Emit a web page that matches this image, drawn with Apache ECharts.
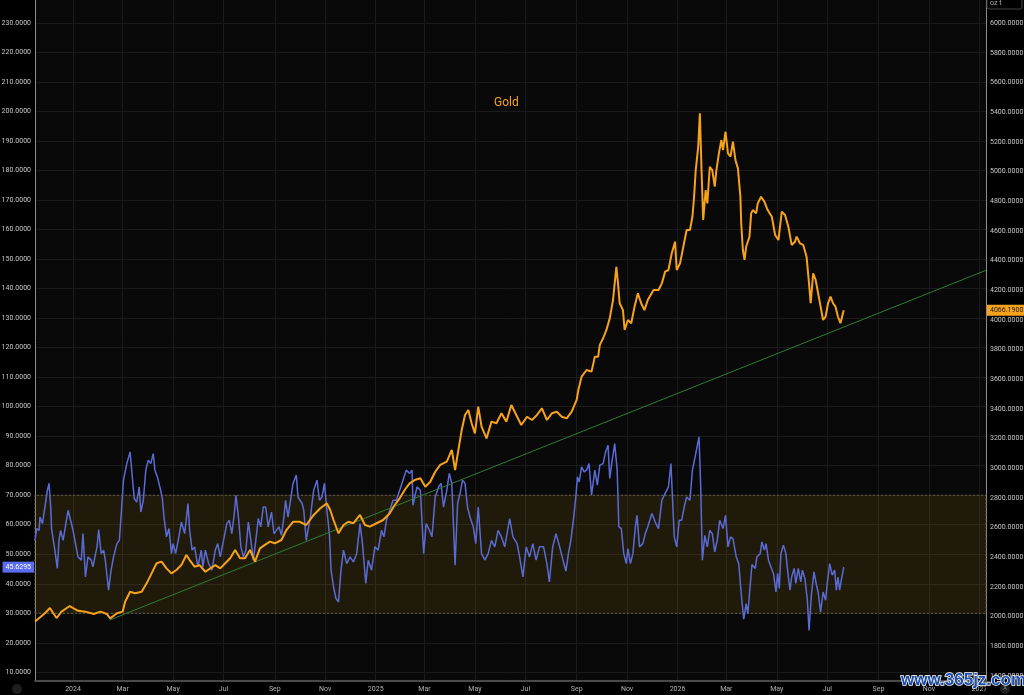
<!DOCTYPE html>
<html><head><meta charset="utf-8">
<script src="https://cdn.jsdelivr.net/npm/echarts@6/dist/echarts.min.js"></script>
<style>html,body{margin:0;padding:0;background:#000;}#c{width:1024px;height:695px;}</style>
</head><body><div id="c"></div><script>
// ---- tick labels ----
const xTickDates = ['2024-01-01','2024-03-01','2024-05-01','2024-07-01','2024-09-01','2024-11-01','2025-01-01','2025-03-01','2025-05-01','2025-07-01','2025-09-01','2025-11-01','2026-01-01','2026-03-01','2026-05-01','2026-07-01','2026-09-01','2026-11-01','2027-01-01'];
const xTickLabels = ['2024','Mar','May','Jul','Sep','Nov','2025','Mar','May','Jul','Sep','Nov','2026','Mar','May','Jul','Sep','Nov','2027'];
const leftTicks = [10,20,30,40,50,60,70,80,90,100,110,120,130,140,150,160,170,180,190,200,210,220,230];
const rightTicks = [1600,1800,2000,2200,2400,2600,2800,3000,3200,3400,3600,3800,4000,4200,4400,4600,4800,5000,5200,5400,5600,5800,6000];
const bandLevels = [30, 70];
const titleText = 'Gold';

// ---- Gold closes (right axis) ----
const goldDates = ['2023-11-16','2023-11-28','2023-12-04','2023-12-12','2023-12-18','2023-12-28','2024-01-07','2024-01-16','2024-01-26','2024-02-03','2024-02-11','2024-02-15','2024-02-23','2024-03-01','2024-03-04','2024-03-10','2024-03-16','2024-03-24','2024-03-30','2024-04-05','2024-04-11','2024-04-17','2024-04-23','2024-04-29','2024-05-05','2024-05-11','2024-05-17','2024-05-21','2024-05-27','2024-06-02','2024-06-09','2024-06-15','2024-06-21','2024-06-27','2024-07-03','2024-07-09','2024-07-15','2024-07-21','2024-07-27','2024-08-02','2024-08-08','2024-08-14','2024-08-20','2024-08-26','2024-09-01','2024-09-09','2024-09-15','2024-09-23','2024-10-01','2024-10-09','2024-10-18','2024-10-26','2024-11-03','2024-11-07','2024-11-11','2024-11-17','2024-11-23','2024-11-29','2024-12-05','2024-12-13','2024-12-19','2024-12-25','2025-01-02','2025-01-10','2025-01-18','2025-01-24','2025-01-30','2025-02-05','2025-02-11','2025-02-17','2025-02-24','2025-03-02','2025-03-08','2025-03-14','2025-03-20','2025-03-28','2025-04-03','2025-04-07','2025-04-11','2025-04-15','2025-04-19','2025-04-23','2025-04-27','2025-05-01','2025-05-05','2025-05-09','2025-05-15','2025-05-21','2025-05-27','2025-06-02','2025-06-08','2025-06-14','2025-06-20','2025-06-26','2025-07-03','2025-07-09','2025-07-15','2025-07-21','2025-07-27','2025-08-02','2025-08-08','2025-08-14','2025-08-20','2025-08-26','2025-09-01','2025-09-03','2025-09-07','2025-09-13','2025-09-19','2025-09-23','2025-09-27','2025-09-29','2025-10-03','2025-10-07','2025-10-11','2025-10-15','2025-10-19','2025-10-21','2025-10-23','2025-10-27','2025-10-29','2025-11-02','2025-11-06','2025-11-10','2025-11-14','2025-11-18','2025-11-22','2025-11-26','2025-12-03','2025-12-09','2025-12-13','2025-12-17','2025-12-21','2025-12-25','2025-12-29','2025-12-31','2026-01-04','2026-01-08','2026-01-12','2026-01-16','2026-01-19','2026-01-21','2026-01-23','2026-01-26','2026-01-28','2026-01-30','2026-02-01','2026-02-04','2026-02-06','2026-02-09','2026-02-12','2026-02-15','2026-02-17','2026-02-20','2026-02-23','2026-02-25','2026-02-28','2026-03-03','2026-03-06','2026-03-09','2026-03-12','2026-03-15','2026-03-18','2026-03-19','2026-03-21','2026-03-23','2026-03-25','2026-03-27','2026-03-29','2026-03-31','2026-04-02','2026-04-06','2026-04-08','2026-04-12','2026-04-16','2026-04-20','2026-04-25','2026-04-29','2026-05-03','2026-05-07','2026-05-11','2026-05-15','2026-05-19','2026-05-23','2026-05-25','2026-05-29','2026-06-02','2026-06-06','2026-06-09','2026-06-11','2026-06-14','2026-06-17','2026-06-20','2026-06-23','2026-06-26','2026-06-29','2026-07-02','2026-07-05','2026-07-08','2026-07-11','2026-07-14','2026-07-17','2026-07-20','2026-07-21'];
const goldClose = [1967,2023,2059,1991,2034,2072,2040,2034,2018,2034,2018,1989,2023,2034,2101,2168,2158,2168,2225,2292,2360,2371,2326,2292,2315,2348,2416,2382,2337,2348,2303,2326,2348,2326,2360,2394,2450,2394,2394,2450,2371,2461,2484,2506,2495,2517,2584,2640,2640,2618,2686,2731,2764,2719,2652,2562,2618,2640,2630,2686,2618,2607,2630,2652,2697,2753,2798,2854,2899,2921,2933,2876,2910,2977,3023,3045,3124,2989,3124,3259,3360,3393,3304,3236,3416,3281,3202,3315,3304,3371,3315,3427,3360,3292,3348,3326,3360,3405,3326,3371,3382,3348,3337,3382,3461,3528,3618,3663,3652,3753,3753,3832,3877,3933,4011,4135,4359,4247,4113,4067,3933,4000,3978,4090,4180,4113,4067,4135,4202,4202,4247,4326,4337,4450,4528,4337,4382,4494,4607,4607,4696,4831,5011,5168,5393,5011,4674,4876,4786,5033,5011,4899,5011,5123,5213,5146,5269,5123,5101,5202,5078,5022,4831,4652,4472,4405,4494,4494,4562,4719,4741,4719,4786,4831,4798,4741,4696,4573,4539,4730,4708,4629,4506,4528,4562,4517,4506,4427,4247,4113,4315,4270,4180,4090,4000,4022,4113,4157,4113,4090,4022,3978,4045,4066.19];

// ---- Oscillator (left axis) ----
const oscDates = ['2023-11-16','2023-11-18','2023-11-21','2023-11-22','2023-11-25','2023-11-28','2023-12-01','2023-12-03','2023-12-05','2023-12-06','2023-12-08','2023-12-10','2023-12-13','2023-12-15','2023-12-17','2023-12-20','2023-12-22','2023-12-26','2023-12-30','2024-01-01','2024-01-04','2024-01-07','2024-01-11','2024-01-13','2024-01-16','2024-01-19','2024-01-23','2024-01-25','2024-01-30','2024-02-01','2024-02-04','2024-02-07','2024-02-09','2024-02-13','2024-02-16','2024-02-19','2024-02-23','2024-02-26','2024-02-28','2024-03-02','2024-03-06','2024-03-10','2024-03-13','2024-03-15','2024-03-18','2024-03-21','2024-03-23','2024-03-26','2024-03-29','2024-04-01','2024-04-04','2024-04-07','2024-04-09','2024-04-12','2024-04-15','2024-04-18','2024-04-20','2024-04-23','2024-04-26','2024-04-29','2024-05-01','2024-05-04','2024-05-08','2024-05-11','2024-05-15','2024-05-19','2024-05-21','2024-05-24','2024-05-27','2024-05-31','2024-06-04','2024-06-06','2024-06-09','2024-06-13','2024-06-17','2024-06-21','2024-06-24','2024-06-27','2024-07-01','2024-07-05','2024-07-08','2024-07-11','2024-07-14','2024-07-16','2024-07-19','2024-07-22','2024-07-25','2024-07-28','2024-07-31','2024-08-03','2024-08-06','2024-08-09','2024-08-12','2024-08-15','2024-08-18','2024-08-21','2024-08-24','2024-08-28','2024-08-31','2024-09-03','2024-09-06','2024-09-09','2024-09-12','2024-09-14','2024-09-17','2024-09-23','2024-09-27','2024-09-29','2024-10-04','2024-10-06','2024-10-09','2024-10-14','2024-10-18','2024-10-22','2024-10-25','2024-10-28','2024-10-31','2024-11-03','2024-11-06','2024-11-08','2024-11-11','2024-11-14','2024-11-17','2024-11-20','2024-11-23','2024-11-27','2024-12-01','2024-12-05','2024-12-09','2024-12-13','2024-12-16','2024-12-20','2024-12-23','2024-12-27','2024-12-31','2025-01-04','2025-01-08','2025-01-11','2025-01-14','2025-01-18','2025-01-22','2025-01-26','2025-01-30','2025-02-03','2025-02-07','2025-02-11','2025-02-14','2025-02-15','2025-02-20','2025-02-24','2025-02-28','2025-03-03','2025-03-07','2025-03-10','2025-03-14','2025-03-18','2025-03-21','2025-03-24','2025-03-28','2025-03-31','2025-04-03','2025-04-07','2025-04-10','2025-04-13','2025-04-16','2025-04-19','2025-04-22','2025-04-25','2025-04-29','2025-05-02','2025-05-05','2025-05-09','2025-05-13','2025-05-17','2025-05-21','2025-05-25','2025-05-29','2025-06-02','2025-06-06','2025-06-12','2025-06-16','2025-06-21','2025-06-24','2025-06-28','2025-07-02','2025-07-06','2025-07-10','2025-07-14','2025-07-18','2025-07-23','2025-07-27','2025-07-30','2025-08-03','2025-08-07','2025-08-11','2025-08-15','2025-08-19','2025-08-22','2025-08-25','2025-08-28','2025-08-31','2025-09-02','2025-09-04','2025-09-07','2025-09-10','2025-09-13','2025-09-16','2025-09-19','2025-09-23','2025-09-26','2025-09-29','2025-10-03','2025-10-06','2025-10-09','2025-10-11','2025-10-14','2025-10-17','2025-10-20','2025-10-22','2025-10-25','2025-10-28','2025-10-31','2025-11-02','2025-11-05','2025-11-08','2025-11-11','2025-11-13','2025-11-16','2025-11-20','2025-11-23','2025-11-26','2025-12-01','2025-12-05','2025-12-09','2025-12-13','2025-12-17','2025-12-21','2025-12-24','2025-12-26','2025-12-28','2025-12-31','2026-01-03','2026-01-06','2026-01-09','2026-01-12','2026-01-16','2026-01-19','2026-01-23','2026-01-27','2026-01-29','2026-01-31','2026-02-03','2026-02-06','2026-02-09','2026-02-12','2026-02-15','2026-02-18','2026-02-21','2026-02-25','2026-02-28','2026-03-03','2026-03-06','2026-03-09','2026-03-13','2026-03-16','2026-03-19','2026-03-22','2026-03-25','2026-03-27','2026-03-29','2026-04-01','2026-04-05','2026-04-07','2026-04-11','2026-04-13','2026-04-16','2026-04-18','2026-04-21','2026-04-24','2026-04-27','2026-04-30','2026-05-02','2026-05-04','2026-05-06','2026-05-09','2026-05-12','2026-05-15','2026-05-17','2026-05-19','2026-05-22','2026-05-24','2026-05-27','2026-05-30','2026-06-01','2026-06-04','2026-06-07','2026-06-09','2026-06-12','2026-06-15','2026-06-18','2026-06-20','2026-06-23','2026-06-26','2026-06-29','2026-07-01','2026-07-04','2026-07-07','2026-07-10','2026-07-12','2026-07-14','2026-07-16','2026-07-18','2026-07-21'];
const oscValues = [54.7,58.7,58.1,62.6,60.4,66.0,71.7,74.0,66.0,58.7,58.1,51.4,45.2,54.7,58.1,54.7,58.1,64.9,60.4,58.1,53.6,49.1,48.0,57.0,42.3,49.1,48.0,45.7,52.5,58.4,50.2,51.4,48.0,37.8,44.6,49.1,53.6,54.7,62.6,75.1,80.7,84.7,75.1,68.9,67.7,72.8,64.3,68.3,78.5,81.9,80.7,84.1,78.5,76.2,72.8,68.9,62.6,55.9,58.7,50.2,53.6,50.2,55.9,60.9,57.0,67.2,58.1,51.4,52.5,45.7,51.4,45.7,51.4,46.8,44.6,51.4,53.6,49.1,54.7,60.4,61.5,57.0,63.8,70.0,62.6,52.5,49.1,51.4,60.9,54.7,48.0,54.7,62.1,59.3,66.0,66.0,59.3,64.3,57.0,58.1,59.3,56.4,62.6,68.3,62.6,74.0,76.8,69.4,67.2,64.9,54.7,62.6,71.7,75.1,68.3,69.4,74.0,64.9,57.0,44.6,38.9,35.0,33.8,44.6,51.4,46.8,49.1,47.4,50.2,60.4,53.6,40.1,48.0,44.6,52.5,51.4,58.1,55.9,61.5,64.9,68.3,68.3,71.7,75.1,78.5,77.4,78.5,66.6,72.8,71.7,50.2,60.4,58.1,55.9,69.4,72.8,74.0,66.0,71.7,77.4,74.0,46.3,67.2,70.6,75.1,74.0,66.0,62.6,59.3,53.6,66.0,50.2,48.0,50.2,54.7,52.5,58.1,55.9,52.5,62.1,55.9,53.6,49.1,42.3,52.5,49.1,53.6,48.0,52.5,52.5,46.8,40.6,52.5,57.0,53.0,48.5,44.3,50.2,54.7,61.5,69.4,76.2,74.5,79.6,77.9,78.5,80.7,70.0,78.5,73.4,80.2,80.7,84.7,86.9,75.7,81.9,87.5,78.5,59.3,58.7,50.2,46.8,51.9,46.8,50.2,59.3,63.2,52.5,53.6,57.0,59.3,63.8,60.9,58.7,68.3,70.6,72.8,80.7,81.3,55.9,52.5,61.5,61.5,66.0,69.4,68.3,78.5,84.1,89.8,72.8,48.0,56.4,52.5,58.1,57.0,50.8,54.7,61.5,58.7,63.2,52.5,55.9,55.3,49.1,46.8,36.7,28.0,33.3,29.9,36.7,46.5,45.2,49.1,50.2,54.2,51.4,53.6,48.0,45.7,43.5,37.2,43.5,38.4,50.2,53.1,50.2,42.3,37.8,42.3,45.2,40.1,45.2,40.6,44.6,41.8,34.4,24.2,36.7,44.0,39.5,37.2,30.4,37.2,34.4,40.1,46.8,42.9,44.6,37.8,42.3,37.8,41.2,45.6295];

// ---- trend line (right axis) ----
const trendDates = ['2024-02-14','2027-01-09'];
const trendValues = [1977, 4335];

const xStart = '2023-11-16', xEnd = '2027-01-09';

function ts(s){const p=s.split('-');return new Date(+p[0],+p[1]-1,+p[2]).getTime();}
const xTickTs = xTickDates.map(ts);
const goldData = goldDates.map((d,i)=>[ts(d),goldClose[i]]);
const oscData = oscDates.map((d,i)=>[ts(d),oscValues[i]]);
const trendData = trendDates.map((d,i)=>[ts(d),trendValues[i]]);
const goldLast = goldClose[goldClose.length-1];
const oscLast = oscValues[oscValues.length-1];

const chart = echarts.init(document.getElementById('c'), null, {renderer:'canvas'});
const FONT = 'Roboto';
const option = {
  backgroundColor:'#000000',
  animation:false,
  textStyle:{fontFamily:FONT},
  title:{text:titleText,left:489,top:92,textStyle:{color:'#f7a21b',fontSize:12,fontWeight:'normal',fontFamily:FONT}},
  grid:{left:35,right:38,top:0,bottom:14,show:true,backgroundColor:'#090909',borderWidth:0,containLabel:false,outerBoundsMode:'none'},
  xAxis:{type:'value',min:ts(xStart),max:ts(xEnd),
    axisLine:{show:true,lineStyle:{color:'#4a4a4a',width:2}},
    axisTick:{show:false,customValues:xTickTs},
    axisLabel:{customValues:xTickTs,color:'#b4b4b4',fontSize:7,margin:5,hideOverlap:false,
      formatter:function(v){let best=-1,bd=Infinity;xTickTs.forEach((t,i)=>{const d=Math.abs(t-v);if(d<bd){bd=d;best=i;}});return bd<3*86400000?xTickLabels[best]:'';}},
    splitLine:{show:true,lineStyle:{color:'#1b1b1b',width:1}}},
  yAxis:[
    {type:'value',position:'left',min:7.05,max:237.8,
      axisLine:{show:true,lineStyle:{color:'#8c8c8c',width:1}},
      axisTick:{show:false,customValues:leftTicks},
      axisLabel:{customValues:leftTicks,formatter:v=>Number(v).toFixed(4),color:'#c8c8c8',fontSize:7,margin:4,hideOverlap:false},
      splitLine:{show:true,lineStyle:{color:'#1b1b1b',width:1}}},
    {type:'value',position:'right',min:1566.6,max:6157.1,
      axisLine:{show:true,lineStyle:{color:'#8c8c8c',width:1}},
      axisTick:{show:false,customValues:rightTicks},
      axisLabel:{customValues:rightTicks,formatter:v=>Number(v).toFixed(4),color:'#c8c8c8',fontSize:7,margin:4,hideOverlap:false},
      splitLine:{show:false}}
  ],
  series:[
    {name:'osc',type:'line',yAxisIndex:0,data:oscData,showSymbol:false,symbol:'none',z:2,
      lineStyle:{color:'#5b6bd6',width:1.5},
      markArea:{silent:true,itemStyle:{color:'rgba(200,160,20,0.12)',borderColor:'#6a604c',borderWidth:1,borderType:[2,2]},
        data:[[{yAxis:bandLevels[0]},{yAxis:bandLevels[1]}]]},
      markLine:{silent:true,symbol:'none',lineStyle:{color:'rgba(0,0,0,0)',width:0},
        label:{show:true,position:'start',distance:1,formatter:oscLast.toFixed(4),backgroundColor:'#5b6cf0',color:'#ffffff',fontSize:7,padding:[2,3,2,3],fontFamily:FONT},
        data:[{yAxis:oscLast}]}},
    {name:'trend',type:'line',yAxisIndex:1,data:trendData,showSymbol:false,symbol:'none',z:2,
      lineStyle:{color:'#2f7d35',width:1}},
    {name:'Gold',type:'line',yAxisIndex:1,data:goldData,showSymbol:false,symbol:'none',z:3,
      lineStyle:{color:'#f7a21b',width:2},
      markLine:{silent:true,symbol:'none',lineStyle:{color:'rgba(0,0,0,0)',width:0},
        label:{show:true,position:'end',distance:1,formatter:goldLast.toFixed(4),backgroundColor:'#f7a21b',color:'#1a1a1a',fontSize:7,padding:[2,3,2,3],fontFamily:FONT},
        data:[{yAxis:goldLast}]}}
  ],
  graphic:[
    {type:'rect',z:100,shape:{x:986,y:682,width:38,height:13},style:{fill:'#000'}},
    {type:'rect',z:100,shape:{x:987,y:-3,width:35,height:12,r:2},style:{fill:'#000',stroke:'#444',lineWidth:1}},
    {type:'text',z:101,x:990,y:0,style:{text:'oz t',fill:'#aaaaaa',font:'7px Roboto'}},
    {type:'circle',z:100,shape:{cx:17,cy:689,r:5},style:{fill:'#1e1e1e'}},
    {type:'circle',z:100,shape:{cx:1005,cy:689,r:5},style:{fill:'#1e1e1e'}},
    {type:'text',z:101,x:1003,y:685,style:{text:'A',fill:'#888',font:'6px Roboto'}},
    {type:'text',z:102,x:901,y:672,style:{text:'www.365jz.com',fill:'#1d4fae',stroke:'#ffffff',lineWidth:1.5,font:'bold 17px "Liberation Sans"'}}
  ]
};
chart.setOption(option);
</script></body></html>
